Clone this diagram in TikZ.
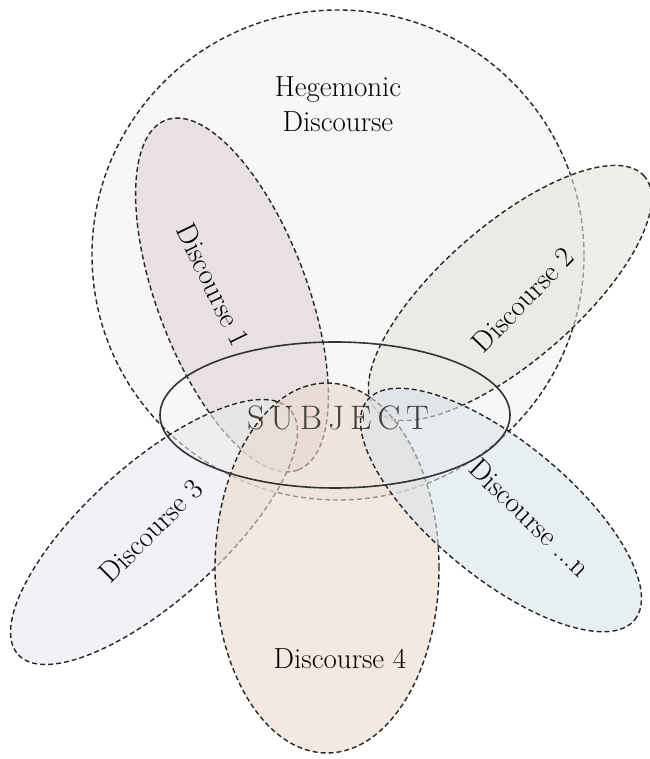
\documentclass[tikz,border=0pt]{standalone}
\usepackage{tikz}
\usetikzlibrary{shapes.geometric}

\definecolor{hegFill}{RGB}{247,247,247}
\definecolor{oneFill}{RGB}{222,210,214}
\definecolor{twoFill}{RGB}{227,228,218}
\definecolor{threeFill}{RGB}{232,233,238}
\definecolor{fourFill}{RGB}{235,218,203}
\definecolor{nFill}{RGB}{217,228,233}

\begin{document}
\begin{tikzpicture}[
  x=1pt, y=1pt,
  font=\fontsize{29}{35}\selectfont,
  region/.style={draw=black!85, ellipse, dash pattern=on 5pt off 3pt,
                 line width=1.4pt, inner sep=0pt, fill opacity=0.6},
  subj/.style={draw=black!80, ellipse, line width=1.6pt, inner sep=0pt},
  lbl/.style={align=center, text=black},
]
\useasboundingbox (0,0) rectangle (649,759);

% discourse areas
\node[region, fill=hegFill, fill opacity=1, minimum width=492, minimum height=490] (heg) at (338,504) {};
\node[region, fill=oneFill, minimum width=374, minimum height=150, rotate=-69.3] (d1) at (232,464) {};
\node[region, fill=twoFill, minimum width=356, minimum height=136, rotate=41] (d2) at (510,466) {};
\node[region, fill=threeFill, minimum width=366, minimum height=136, rotate=42] (d3) at (154,227) {};
\node[region, fill=fourFill, minimum width=224, minimum height=370] (d4) at (327,191) {};
\node[region, fill=nFill, minimum width=346, minimum height=136, rotate=-39.4] (dn) at (501,249) {};
\node[subj, minimum width=350, minimum height=146] (subj) at (335,344) {};

% labels
\node[lbl] (hegL) at (338,655) {Hegemonic\\Discourse};
\node[lbl, rotate=-64] (d1L) at (213,474) {Discourse 1};
\node[lbl, rotate=46] (d2L) at (523,459) {Discourse 2};
\node[lbl, rotate=45] (d3L) at (151,228) {Discourse 3};
\node[lbl] (d4L) at (340,100) {Discourse 4};
\node[lbl, rotate=-44] (dnL) at (530,241) {Discourse ...n};
\node[text=black!85, text opacity=0.85, font=\fontsize{34}{38}\selectfont] (subjL) at (338,341)
  {S\kern6pt U\kern6pt B\kern6pt J\kern6pt E\kern6pt C\kern6pt T};
\end{tikzpicture}
\end{document}
